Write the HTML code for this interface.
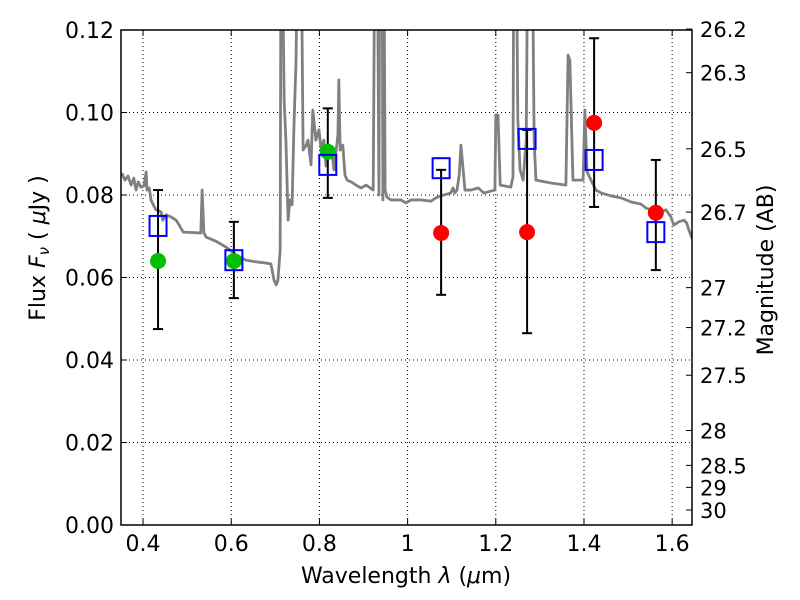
<!DOCTYPE html>
<html><head><meta charset="utf-8">
<style>
html,body{margin:0;padding:0;background:#fff;}
svg{display:block;font-family:"DejaVu Sans","Liberation Sans",sans-serif;}
</style></head>
<body>
<svg id="chart" width="800" height="600"></svg>
<script>
const specW=[0.352,0.359,0.366,0.373,0.379,0.384,0.389,0.395,0.402,0.407,0.409,0.414,0.418,0.429,0.441,0.445,0.452,0.463,0.475,0.482,0.491,0.531,0.534,0.538,0.543,0.565,0.588,0.611,0.633,0.656,0.679,0.690,0.697,0.702,0.706,0.711,0.713,0.715,0.720,0.724,0.729,0.733,0.738,0.742,0.747,0.751,0.758,0.763,0.770,0.774,0.781,0.785,0.792,0.799,0.804,0.810,0.815,0.822,0.829,0.833,0.838,0.842,0.844,0.847,0.853,0.858,0.863,0.872,0.883,0.894,0.906,0.922,0.926,0.931,0.935,0.937,0.942,0.944,0.946,0.949,0.953,0.962,0.985,0.996,1.008,1.030,1.053,1.064,1.076,1.098,1.103,1.107,1.112,1.117,1.121,1.126,1.130,1.144,1.160,1.173,1.198,1.200,1.205,1.210,1.234,1.239,1.241,1.246,1.250,1.255,1.262,1.269,1.273,1.282,1.287,1.291,1.325,1.359,1.364,1.368,1.375,1.398,1.402,1.407,1.416,1.427,1.439,1.461,1.484,1.507,1.529,1.541,1.563,1.575,1.586,1.597,1.604,1.615,1.627,1.633,1.638,1.647];
const specF=[0.0853,0.0836,0.0846,0.0824,0.0841,0.0812,0.0832,0.0819,0.0822,0.0856,0.0812,0.0817,0.0788,0.0764,0.0759,0.0739,0.0752,0.0747,0.0739,0.0727,0.0710,0.0708,0.0812,0.0708,0.0698,0.0688,0.0674,0.0655,0.0642,0.0638,0.0635,0.0633,0.0594,0.0582,0.0594,0.0667,0.15,0.15,0.1030,0.0933,0.0739,0.0788,0.0776,0.0958,0.1127,0.15,0.15,0.0909,0.0921,0.0933,0.0873,0.1006,0.0933,0.0958,0.0909,0.0933,0.0870,0.0909,0.0897,0.0861,0.0909,0.0945,0.1079,0.0909,0.0921,0.0848,0.0836,0.0832,0.0824,0.0817,0.0824,0.0812,0.15,0.15,0.0800,0.15,0.15,0.0788,0.15,0.0812,0.0795,0.0788,0.0788,0.0781,0.0788,0.0788,0.0785,0.0793,0.0798,0.0805,0.0817,0.0805,0.0812,0.0848,0.0921,0.0861,0.0812,0.0812,0.0817,0.0805,0.0812,0.0994,0.0994,0.0824,0.0819,0.0844,0.15,0.15,0.0982,0.0861,0.0836,0.0933,0.15,0.15,0.0933,0.0836,0.0829,0.0824,0.1139,0.1127,0.0836,0.0836,0.1006,0.0856,0.0836,0.0812,0.0805,0.0798,0.0793,0.0783,0.0778,0.0768,0.0761,0.0759,0.0764,0.0747,0.0727,0.0735,0.0739,0.0732,0.0715,0.0691];
const obsW=[0.434,0.606,0.819,1.076,1.271,1.423,1.563];
const obsF=[0.064,0.064,0.0905,0.0708,0.071,0.0975,0.0757];
const obsHi=[0.0812,0.0735,0.101,0.0861,0.0958,0.118,0.0885];
const obsLo=[0.0475,0.055,0.0793,0.0558,0.0465,0.0771,0.0618];
const obsColor=['#00c000','#00c000','#00c000','#ff0000','#ff0000','#ff0000','#ff0000'];
const modelF=[0.0725,0.0642,0.0873,0.0865,0.0936,0.0885,0.071];
const xTicks=[0.4,0.6,0.8,1.0,1.2,1.4,1.6];
const xTickLabels=['0.4','0.6','0.8','1','1.2','1.4','1.6'];
const yTicks=[0,0.02,0.04,0.06,0.08,0.10,0.12];
const yTickLabels=['0.00','0.02','0.04','0.06','0.08','0.10','0.12'];
const magTicks=[26.2,26.3,26.5,26.7,27,27.2,27.5,28,28.5,29,30];
const magTickLabels=['26.2','26.3','26.5','26.7','27','27.2','27.5','28','28.5','29','30'];

const L=121,R=692,T=30,B=525,X0=0.35,X1=1.645,Y0=0,Y1=0.12;
const sx=w=>L+(w-X0)/(X1-X0)*(R-L);
const sy=f=>B-(f-Y0)/(Y1-Y0)*(B-T);
const svg=document.getElementById('chart');
const NS='http://www.w3.org/2000/svg';
function mk(tag,attrs,parent){const e=document.createElementNS(NS,tag);for(const k in attrs)e.setAttribute(k,attrs[k]);(parent||svg).appendChild(e);return e;}

const defs=mk('defs',{});const cp=mk('clipPath',{id:'clip'},defs);mk('rect',{x:L,y:T,width:R-L,height:B-T},cp);

const grid=mk('g',{});


xTicks.forEach(t=>mk('line',{x1:sx(t),x2:sx(t),y1:T,y2:B,stroke:'#000','stroke-dasharray':'1,3','stroke-width':1},grid));
yTicks.forEach(t=>mk('line',{x1:L,x2:R,y1:sy(t),y2:sy(t),stroke:'#000','stroke-dasharray':'1,3','stroke-width':1},grid));

const sp=mk('polyline',{points:specW.map((w,i)=>sx(w)+','+sy(specF[i])).join(' '),fill:'none',stroke:'#808080','stroke-width':2.8,'clip-path':'url(#clip)','stroke-linejoin':'round'});



obsW.forEach((w,i)=>{
  const g=mk('g',{});
  
  
  const x=sx(w);
  mk('line',{x1:x,x2:x,y1:sy(obsHi[i]),y2:sy(obsLo[i]),stroke:'#000','stroke-width':2},g);
  mk('line',{x1:x-5,x2:x+5,y1:sy(obsHi[i]),y2:sy(obsHi[i]),stroke:'#000','stroke-width':2},g);
  mk('line',{x1:x-5,x2:x+5,y1:sy(obsLo[i]),y2:sy(obsLo[i]),stroke:'#000','stroke-width':2},g);
  mk('circle',{cx:x,cy:sy(obsF[i]),r:8,fill:obsColor[i]},g);
  const s=mk('rect',{x:x-8.5,y:sy(modelF[i])-10,width:17,height:20,fill:'none',stroke:'#0000ff','stroke-width':2});
  
  
});

const fr=mk('rect',{x:L,y:T,width:R-L,height:B-T,fill:'none',stroke:'#000','stroke-width':1.5});



xTicks.forEach((t,i)=>{
  mk('line',{x1:sx(t),x2:sx(t),y1:B,y2:B-6,stroke:'#000'});
  mk('line',{x1:sx(t),x2:sx(t),y1:T,y2:T+6,stroke:'#000'});
  const tx=mk('text',{x:sx(t),y:B+26,'text-anchor':'middle','font-size':22});
  tx.textContent=xTickLabels[i];
  
  
});
yTicks.forEach((t,i)=>{
  mk('line',{x1:L,x2:L+6,y1:sy(t),y2:sy(t),stroke:'#000'});
  const tx=mk('text',{x:L-7,y:sy(t)+8,'text-anchor':'end','font-size':22});
  tx.textContent=yTickLabels[i];
  
  
});
magTicks.forEach((m,i)=>{
  const f=Math.pow(10,(23.9-m)/2.5);const y=sy(f);
  mk('line',{x1:R,x2:R-6,y1:y,y2:y,stroke:'#000'});
  const tx=mk('text',{x:R+8,y:y+8,'font-size':21});
  tx.textContent=magTickLabels[i];
  
  
});

const xl=mk('text',{x:406,y:583,'text-anchor':'middle','font-size':22});
xl.innerHTML='Wavelength  <tspan font-style="italic">λ</tspan> (<tspan font-style="italic">μ</tspan>m)';


const yl=mk('text',{x:0,y:0,'text-anchor':'middle','font-size':22,transform:'translate(45,248) rotate(-90)'});
yl.innerHTML='Flux  <tspan font-style="italic">F</tspan><tspan font-style="italic" font-size="15" dy="4">ν</tspan><tspan dy="-4">  (  </tspan><tspan font-style="italic">μ</tspan>Jy )';


const yr=mk('text',{x:0,y:0,'text-anchor':'middle','font-size':22,transform:'translate(773,270) rotate(-90)'});
yr.textContent='Magnitude (AB)';


</script>
</body></html>
